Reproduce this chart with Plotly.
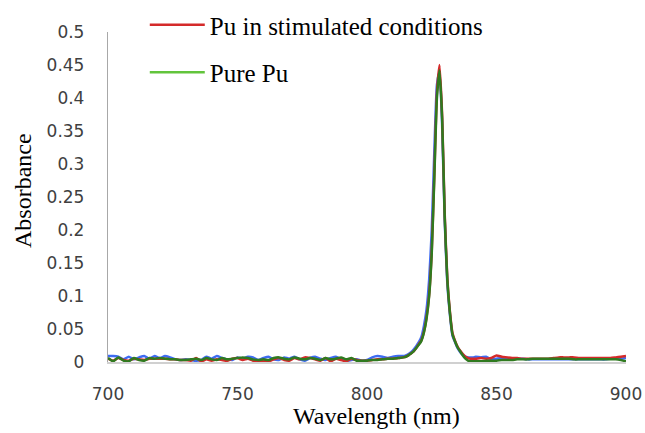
import plotly.graph_objects as go

# Wavelength sampling grid (nm)
wavelength = [700, 702, 704, 706, 708, 710, 712, 714, 716, 718, 720, 722, 724, 726, 728, 730,
              732, 734, 736, 738, 740, 742, 744, 746, 748, 750, 752, 754, 756, 758, 760, 762,
              764, 766, 768, 770, 772, 774, 776, 778, 780, 782, 784, 786, 788, 790, 792, 794,
              796, 798, 800, 802, 804, 806, 808, 810, 812,
              814, 815, 816, 817, 818, 819, 820, 821, 822, 823, 824, 825, 826, 827, 828, 829,
              830, 831, 832, 833, 834, 835, 836, 837, 838, 839, 840, 841,
              842, 844, 846, 848, 850, 852, 854, 856, 858, 860, 862, 864, 866, 868, 870, 872,
              874, 876, 878, 880, 882, 884, 886, 888, 890, 892, 894, 896, 898, 900]

# Pu in stimulated conditions (red)
absorbance_stimulated = [
    0.005, 0.002, 0.006, 0.003, 0.002, 0.005, 0.004, 0.003, 0.005, 0.005, 0.005, 0.005, 0.004, 0.004, 0.003, 0.003,
    0.002, 0.006, 0.001, 0.004, 0.002, 0.004, 0.003, 0.002, 0.005, 0.006, 0.003, 0.005, 0.002, 0.001, 0.001, 0.001,
    0.004, 0.006, 0.003, 0.002, 0.006, 0.004, 0.007, 0.006, 0.004, 0.002, 0.006, 0.001, 0.005, 0.003, 0.001, 0.005,
    0.003, 0.002, 0.002, 0.003, 0.004, 0.004, 0.005, 0.005, 0.006,
    0.007, 0.008, 0.010, 0.013, 0.016, 0.021, 0.027, 0.033, 0.046, 0.068, 0.102, 0.168, 0.285, 0.408, 0.450, 0.375,
    0.225, 0.128, 0.077, 0.044, 0.032, 0.023, 0.017, 0.012, 0.008, 0.006, 0.005, 0.005,
    0.005, 0.006, 0.005, 0.006, 0.010, 0.008, 0.007, 0.006, 0.006, 0.005, 0.005, 0.005, 0.005, 0.005, 0.005, 0.006,
    0.007, 0.007, 0.007, 0.007, 0.006, 0.006, 0.006, 0.006, 0.006, 0.006, 0.006, 0.007, 0.008, 0.009]

# Pure Pu (dark green)
absorbance_pure = [
    0.006, 0.001, 0.007, 0.002, 0.001, 0.006, 0.003, 0.002, 0.006, 0.005, 0.006, 0.005, 0.004, 0.004, 0.003, 0.003,
    0.004, 0.005, 0.003, 0.006, 0.004, 0.003, 0.006, 0.004, 0.005, 0.006, 0.007, 0.006, 0.004, 0.003, 0.004, 0.003,
    0.006, 0.007, 0.005, 0.004, 0.007, 0.005, 0.004, 0.006, 0.005, 0.003, 0.006, 0.004, 0.005, 0.007, 0.004, 0.006,
    0.002, 0.002, 0.002, 0.003, 0.003, 0.004, 0.005, 0.005, 0.006,
    0.007, 0.008, 0.010, 0.013, 0.016, 0.021, 0.026, 0.032, 0.045, 0.066, 0.100, 0.165, 0.280, 0.400, 0.442, 0.370,
    0.220, 0.125, 0.075, 0.042, 0.031, 0.022, 0.016, 0.010, 0.005, 0.002, 0.001, 0.001,
    0.001, 0.001, 0.002, 0.002, 0.002, 0.003, 0.003, 0.003, 0.004, 0.004, 0.004, 0.005, 0.005, 0.005, 0.005, 0.005,
    0.005, 0.005, 0.005, 0.004, 0.004, 0.004, 0.004, 0.004, 0.004, 0.004, 0.004, 0.004, 0.003, 0.001]

# Third (unlabelled, blue) spectrum
absorbance_blue = [
    0.009, 0.009, 0.008, 0.004, 0.008, 0.004, 0.007, 0.009, 0.005, 0.009, 0.006, 0.009, 0.007, 0.004, 0.003, 0.004,
    0.003, 0.002, 0.003, 0.008, 0.005, 0.009, 0.006, 0.004, 0.003, 0.007, 0.005, 0.008, 0.007, 0.003, 0.006, 0.008,
    0.004, 0.003, 0.007, 0.005, 0.008, 0.004, 0.002, 0.006, 0.008, 0.005, 0.003, 0.006, 0.008, 0.004, 0.002, 0.003,
    0.004, 0.002, 0.003, 0.007, 0.009, 0.008, 0.006, 0.008, 0.009,
    0.009, 0.010, 0.012, 0.015, 0.019, 0.024, 0.030, 0.038, 0.055, 0.080, 0.125, 0.200, 0.320, 0.420, 0.440, 0.360,
    0.215, 0.120, 0.072, 0.040, 0.030, 0.021, 0.015, 0.011, 0.008, 0.007, 0.007, 0.007,
    0.008, 0.007, 0.008, 0.004, 0.005, 0.006, 0.006, 0.005, 0.005, 0.005, 0.004, 0.004, 0.004, 0.004, 0.004, 0.004,
    0.004, 0.004, 0.004, 0.004, 0.004, 0.004, 0.004, 0.004, 0.004, 0.004, 0.005, 0.005, 0.005, 0.006]

y_tickvals = [0, 0.05, 0.1, 0.15, 0.2, 0.25, 0.3, 0.35, 0.4, 0.45, 0.5]
y_ticktext = ["0", "0.05", "0.1", "0.15", "0.2", "0.25", "0.3", "0.35", "0.4", "0.45", "0.5"]
x_tickvals = [700, 750, 800, 850, 900]

series_names = ["Pu in stimulated conditions", "Pure Pu"]
x_title = "Wavelength (nm)"
y_title = "Absorbance"

fig = go.Figure()
fig.add_trace(go.Scatter(x=wavelength, y=absorbance_blue, mode="lines",
                         line=dict(color="#3f6cf2", width=2.5, shape="spline", smoothing=0.5),
                         showlegend=False, legendgroup="b"))
fig.add_trace(go.Scatter(x=wavelength, y=absorbance_stimulated, mode="lines", name=series_names[0],
                         line=dict(color="#d42a2a", width=2.5, shape="spline", smoothing=0.5),
                         showlegend=True, legendgroup="r"))
fig.add_trace(go.Scatter(x=wavelength, y=absorbance_pure, mode="lines", name=series_names[1],
                         line=dict(color="#2f7a1f", width=2.5, shape="spline", smoothing=0.5),
                         showlegend=False, legendgroup="g"))
# legend swatch for Pure Pu (lighter green in the legend)
fig.add_trace(go.Scatter(x=[None], y=[None], mode="lines", name=series_names[1],
                         line=dict(color="#62c43c", width=2.5),
                         showlegend=True, legendgroup="g2"))

serif = "Liberation Serif"
sans = "DejaVu Sans"

# paper spans y = 0..362 px (t=0, b=71); plot area top at 32 px
PAPER_H = 433 - 71
PAPER_W = 645 - 108 - 19
fig.update_layout(
    width=645, height=433,
    margin=dict(l=108, r=19, t=0, b=71, autoexpand=False),
    paper_bgcolor="white", plot_bgcolor="white",
    legend=dict(x=0.071, y=(PAPER_H - 2) / PAPER_H, xanchor="left", yanchor="top",
                font=dict(family=serif, size=25, color="black"),
                bgcolor="rgba(0,0,0,0)", tracegroupgap=12, itemwidth=55,
                traceorder="grouped"),
    xaxis=dict(range=[700, 900], tickvals=x_tickvals, showgrid=False, zeroline=False,
               showline=True, linecolor="#d0d0d0", linewidth=2, ticks="",
               tickfont=dict(family=sans, size=17, color="#404040"),
               ticklabelstandoff=16),
    yaxis=dict(range=[0, 0.5], domain=[0, (PAPER_H - 32) / PAPER_H],
               tickvals=y_tickvals, ticktext=y_ticktext, showgrid=False,
               zeroline=False, showline=True, linecolor="#a8a8a8", linewidth=1.3, ticks="",
               tickfont=dict(family=sans, size=17, color="#404040"),
               ticklabelstandoff=19),
    annotations=[
        dict(text=x_title, xref="paper", yref="paper", x=(376 - 108) / PAPER_W,
             y=(362 - 416) / PAPER_H, xanchor="center", yanchor="middle", showarrow=False,
             font=dict(family=serif, size=24, color="black")),
        dict(text=y_title, xref="paper", yref="paper", x=(23 - 108) / PAPER_W,
             y=(362 - 191) / PAPER_H, xanchor="center", yanchor="middle", showarrow=False,
             textangle=-90, font=dict(family=serif, size=24, color="black")),
    ],
)

fig.write_html("out.html", config={"displayModeBar": False},
               post_script="document.body.style.margin='0';document.body.style.overflow='hidden';")
